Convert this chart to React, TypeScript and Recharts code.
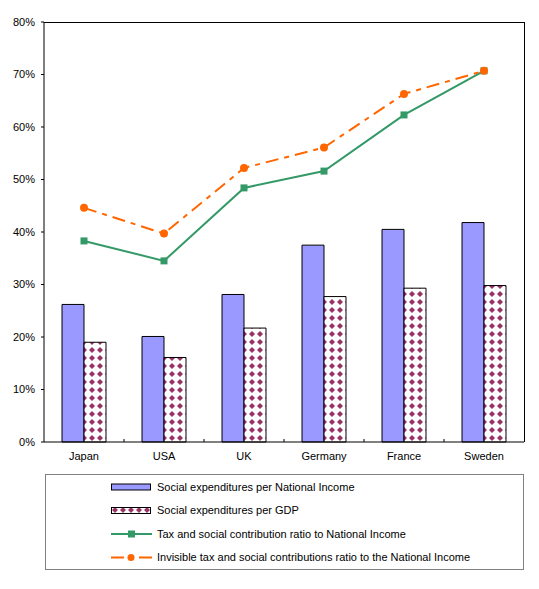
import React from 'react'
import {
  ComposedChart,
  Bar,
  Line,
  XAxis,
  YAxis,
} from 'recharts'

const categories = ['Japan', 'USA', 'UK', 'Germany', 'France', 'Sweden']
const expPerNI = [26.2, 20.1, 28.1, 37.5, 40.5, 41.8]
const expPerGDP = [19.0, 16.1, 21.7, 27.7, 29.3, 29.8]
const taxPerNI = [38.3, 34.5, 48.4, 51.6, 62.3, 70.7]
const invisiblePerNI = [44.6, 39.7, 52.2, 56.1, 66.3, 70.7]
const yTicks = [0, 10, 20, 30, 40, 50, 60, 70, 80]

const seriesNames = [
  'Social expenditures per National Income',
  'Social expenditures per GDP',
  'Tax and social contribution ratio to National Income',
  'Invisible tax and social contributions ratio to the National Income',
]

const BLUE = '#9999ff'
const MAROON = '#993366'
const GREEN = '#339966'
const ORANGE = '#ff6600'
const FONT = '"Liberation Sans", Arial, sans-serif'

const CHART_W = 539
const CHART_H = 470
const PLOT_TOP = 22
const PLOT_LEFT = 44
const PLOT_RIGHT = 15
const X_AXIS_H = 28
const BAND = (CHART_W - PLOT_LEFT - PLOT_RIGHT) / categories.length

const data = categories.map((name, i) => ({
  name,
  expNI: expPerNI[i],
  expGDP: expPerGDP[i],
  tax: taxPerNI[i],
  invisible: invisiblePerNI[i],
}))

const CategoryTick = ({ x, y, payload, index }: any) => {
  const axisY = y - 10
  return (
    <g>
      {index > 0 && (
        <line x1={x - BAND / 2} x2={x - BAND / 2} y1={axisY - 3} y2={axisY} stroke="#000" />
      )}
      <text x={x} y={y} dy="0.71em" textAnchor="middle" fontFamily={FONT} fontSize={11} fill="#000">
        {payload.value}
      </text>
    </g>
  )
}

const SquareDot = ({ cx, cy, index }: any) => (
  <rect key={`sq-${index}`} x={cx - 3.5} y={cy - 3.5} width={7} height={7} fill={GREEN} />
)

const RoundDot = ({ cx, cy, index }: any) => (
  <circle key={`rd-${index}`} cx={cx} cy={cy} r={4} fill={ORANGE} />
)

function LegendBox() {
  const rowY = [12, 35.5, 59, 82.5]
  return (
    <div
      style={{
        position: 'absolute',
        left: 45,
        top: 474,
        width: 479,
        height: 96,
        boxSizing: 'border-box',
        border: '1px solid #808080',
        fontFamily: FONT,
        fontSize: 11,
        color: '#000',
      }}
    >
      <svg width={477} height={94} style={{ position: 'absolute', left: 0, top: 0 }}>
        <defs>
          <pattern id="legendDiamonds" width={8} height={8} patternUnits="userSpaceOnUse" x={1} y={-1}>
            <rect width={8} height={8} fill="#fff" />
            <polygon points="4,1 7,4 4,7 1,4" fill={MAROON} />
          </pattern>
        </defs>
        <rect x={65.5} y={rowY[0] - 3} width={39} height={6} fill={BLUE} stroke="#000" />
        <rect x={65.5} y={rowY[1] - 3} width={39} height={6} fill="url(#legendDiamonds)" stroke="#000" />
        <line x1={65} x2={106} y1={rowY[2]} y2={rowY[2]} stroke={GREEN} strokeWidth={2} />
        <rect x={82} y={rowY[2] - 3.5} width={7} height={7} fill={GREEN} />
        <line x1={65} x2={106} y1={rowY[3]} y2={rowY[3]} stroke={ORANGE} strokeWidth={2} strokeDasharray="13 15 13" />
        <circle cx={85} cy={rowY[3]} r={3.5} fill={ORANGE} />
        {seriesNames.map((s, i) => (
          <text key={s} x={111} y={rowY[i]} dy="0.355em" fontFamily={FONT} fontSize={11} fill="#000">
            {s}
          </text>
        ))}
      </svg>
    </div>
  )
}

export default function App() {
  return (
    <div style={{ position: 'absolute', left: 0, top: 0, width: 539, height: 589, background: '#fff' }}>
      <ComposedChart
        width={CHART_W}
        height={CHART_H}
        data={data}
        margin={{ top: PLOT_TOP, right: PLOT_RIGHT, left: 0, bottom: 0 }}
        barGap={0}
      >
        <defs>
          <pattern id="diamonds" width={8} height={8} patternUnits="userSpaceOnUse" x={0} y={2}>
            <rect width={8} height={8} fill="#fff" />
            <polygon points="4,1 7,4 4,7 1,4" fill={MAROON} />
          </pattern>
        </defs>
        <XAxis
          dataKey="name"
          height={X_AXIS_H}
          axisLine={{ stroke: '#000' }}
          tickLine={false}
          tickSize={0}
          tickMargin={10}
          tick={<CategoryTick />}
          interval={0}
        />
        <YAxis
          width={PLOT_LEFT}
          domain={[0, 80]}
          ticks={yTicks}
          interval={0}
          tickFormatter={(v) => `${v}%`}
          axisLine={{ stroke: '#000' }}
          tickLine={{ stroke: '#000' }}
          tickSize={3}
          tickMargin={6}
          tick={{ fontFamily: FONT, fontSize: 11, fill: '#000' }}
        />
        <Bar dataKey="expNI" name={seriesNames[0]} fill={BLUE} stroke="#000" strokeWidth={1} barSize={22} isAnimationActive={false} />
        <Bar dataKey="expGDP" name={seriesNames[1]} fill="url(#diamonds)" stroke="#000" strokeWidth={1} barSize={22} isAnimationActive={false} />
        <Line
          dataKey="tax"
          name={seriesNames[2]}
          stroke={GREEN}
          strokeWidth={2}
          dot={SquareDot}
          activeDot={false}
          isAnimationActive={false}
        />
        <Line
          dataKey="invisible"
          name={seriesNames[3]}
          stroke={ORANGE}
          strokeWidth={2}
          strokeDasharray="13 6 5 6"
          dot={RoundDot}
          activeDot={false}
          isAnimationActive={false}
        />
      </ComposedChart>
      {/* top and right edges of the plot frame */}
      <div
        style={{
          position: 'absolute',
          left: PLOT_LEFT,
          top: PLOT_TOP,
          width: CHART_W - PLOT_LEFT - PLOT_RIGHT + 1,
          height: CHART_H - PLOT_TOP - X_AXIS_H,
          boxSizing: 'border-box',
          borderTop: '1px solid #000',
          borderRight: '1px solid #000',
          pointerEvents: 'none',
        }}
      />
      <LegendBox />
    </div>
  )
}
